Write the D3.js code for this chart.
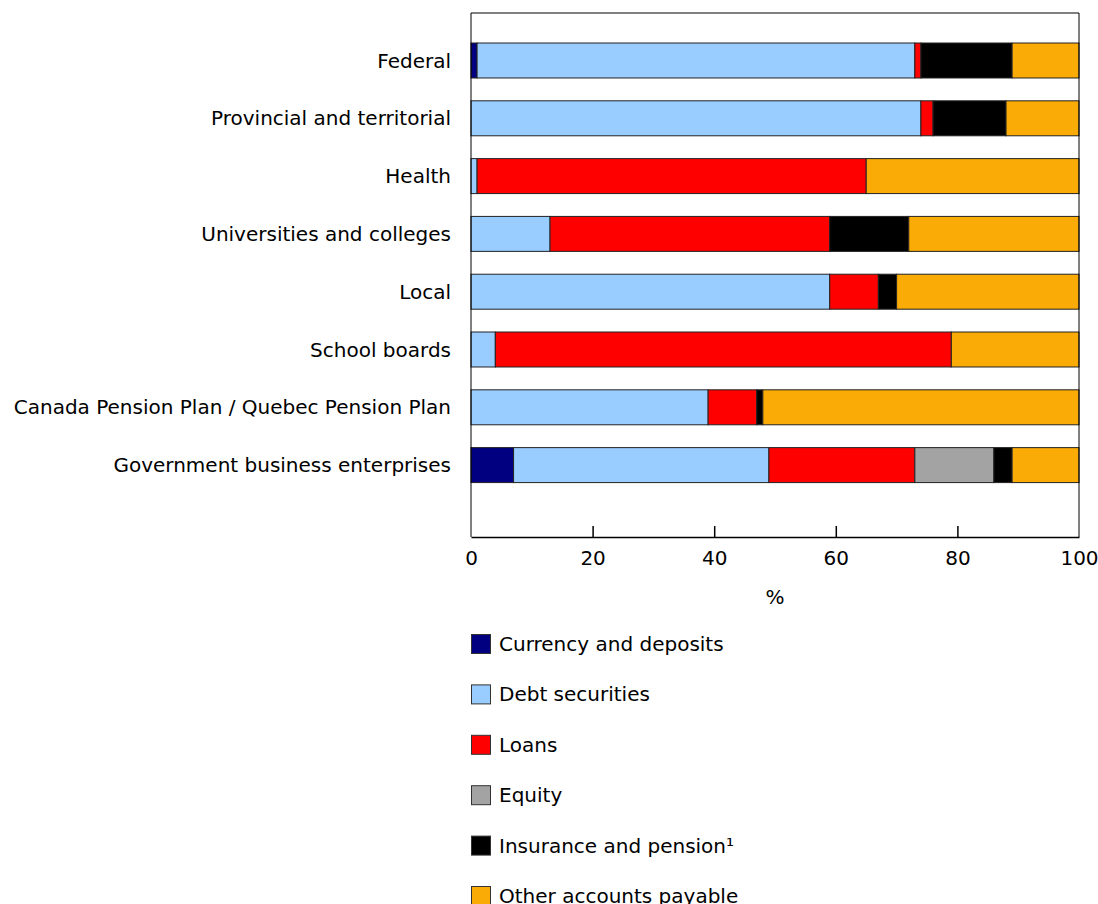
<!DOCTYPE html>
<html><head><meta charset="utf-8">
<script src="https://cdn.jsdelivr.net/npm/d3@7"></script>
<style>body{margin:0;background:#fff;} text{font-family:"DejaVu Sans",Verdana,sans-serif;}</style>
</head><body>
<svg id="c" width="1098" height="904"></svg>
<script>
const categories = ["Federal","Provincial and territorial","Health","Universities and colleges","Local","School boards","Canada Pension Plan / Quebec Pension Plan","Government business enterprises"];
const seriesNames = ["Currency and deposits","Debt securities","Loans","Equity","Insurance and pension\u00b9","Other accounts payable"];
const currency  = [1, 0, 0, 0, 0, 0, 0, 7];
const debt      = [72, 74, 1, 13, 59, 4, 39, 42];
const loans     = [1, 2, 64, 46, 8, 75, 8, 24];
const equity    = [0, 0, 0, 0, 0, 0, 0, 13];
const insurance = [15, 12, 0, 13, 3, 0, 1, 3];
const other     = [11, 12, 35, 28, 30, 21, 52, 11];
const xTicks = [0, 20, 40, 60, 80, 100];
const colors = ["#000080","#99CCFF","#FF0000","#A3A3A3","#000000","#FAAB05"];

const seriesVals = [currency, debt, loans, equity, insurance, other];
const table = categories.map((c,i)=>{const o={cat:c}; seriesNames.forEach((s,j)=>o[s]=seriesVals[j][i]); return o;});
const stack = d3.stack().keys(seriesNames)(table);

const FS = 20;
const svg = d3.select("#c");
const L=471, R=1079, T=13, B=537;
const x = d3.scaleLinear().domain([0,100]).range([L,R]);
const y = d3.scaleBand().domain(categories).range([31.6,494]).paddingInner(0.395).paddingOuter(0.1975);

// bars
stack.forEach((layer,j)=>{
  svg.append("g").selectAll("rect").data(layer.filter(d=>d[1]-d[0]>0)).join("rect")
    .attr("x",d=>x(d[0])).attr("width",d=>x(d[1])-x(d[0]))
    .attr("y",d=>y(d.data.cat)).attr("height",y.bandwidth())
    .attr("fill",colors[j]).attr("stroke","#222").attr("stroke-width",1);
});

// frame
svg.append("line").attr("x1",L).attr("x2",R).attr("y1",T).attr("y2",T).attr("stroke","#000");
svg.append("line").attr("x1",R).attr("x2",R).attr("y1",T).attr("y2",B).attr("stroke","#000");
svg.append("line").attr("x1",L).attr("x2",L).attr("y1",T).attr("y2",B).attr("stroke","#000");

// x axis
const xa = svg.append("g").attr("transform",`translate(0,${B})`)
  .call(d3.axisBottom(x).tickValues(xTicks).tickSize(-11).tickPadding(14).tickSizeOuter(0));
xa.select(".domain").attr("stroke","#000").attr("stroke-width",1.5);
xa.selectAll(".tick line").attr("stroke","#000").attr("stroke-width",1.5)
  .filter(d=>d===0||d===100).remove();
xa.selectAll("text").attr("font-size",FS).attr("fill","#000").attr("font-family","DejaVu Sans");

svg.append("text").attr("x",(L+R)/2).attr("y",604).attr("text-anchor","middle")
  .attr("font-size",FS).text("%");

// y labels
svg.append("g").selectAll("text").data(categories).join("text")
  .attr("x",L-20).attr("y",d=>y(d)+y.bandwidth()/2).attr("dy","0.35em")
  .attr("text-anchor","end").attr("font-size",FS).attr("fill","#000").text(d=>d);

// legend
const lg = svg.append("g").selectAll("g").data(seriesNames).join("g")
  .attr("transform",(d,i)=>`translate(471,${634+i*50.4})`);
lg.append("rect").attr("x",0.5).attr("y",0.5).attr("width",19).attr("height",19)
  .attr("fill",(d,i)=>colors[i]).attr("stroke","#333").attr("stroke-width",1);
lg.append("text").attr("x",28).attr("y",10).attr("dy","0.35em").attr("font-size",FS).text(d=>d);
</script>
</body></html>
